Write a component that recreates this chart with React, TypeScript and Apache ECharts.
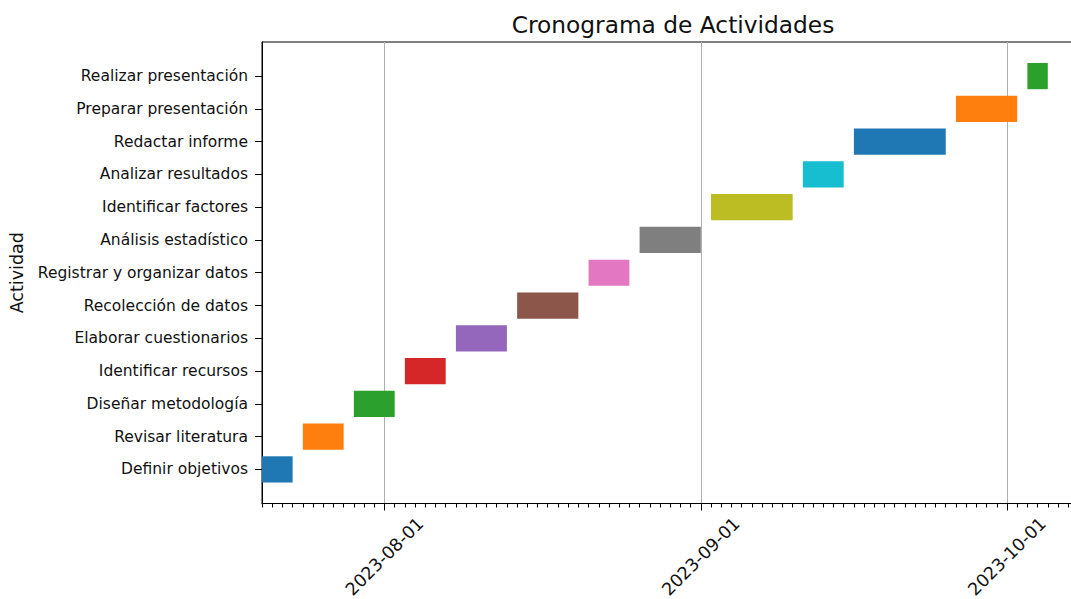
import React, { useEffect, useRef } from "react";
import * as echarts from "echarts";

const tasks = [
  "Definir objetivos",
  "Revisar literatura",
  "Diseñar metodología",
  "Identificar recursos",
  "Elaborar cuestionarios",
  "Recolección de datos",
  "Registrar y organizar datos",
  "Análisis estadístico",
  "Identificar factores",
  "Analizar resultados",
  "Redactar informe",
  "Preparar presentación",
  "Realizar presentación",
];

const startDates = [
  "2023-07-20", "2023-07-24", "2023-07-29", "2023-08-03", "2023-08-08",
  "2023-08-14", "2023-08-21", "2023-08-26", "2023-09-02", "2023-09-11",
  "2023-09-16", "2023-09-26", "2023-10-03",
];

const endDates = [
  "2023-07-23", "2023-07-28", "2023-08-02", "2023-08-07", "2023-08-13",
  "2023-08-20", "2023-08-25", "2023-09-01", "2023-09-10", "2023-09-15",
  "2023-09-25", "2023-10-02", "2023-10-05",
];

const barColors = [
  "#1f77b4", "#ff7f0e", "#2ca02c", "#d62728", "#9467bd", "#8c564b", "#e377c2",
  "#7f7f7f", "#bcbd22", "#17becf", "#1f77b4", "#ff7f0e", "#2ca02c",
];

const tickLabels = ["2023-08-01", "2023-09-01", "2023-10-01"];
const axisStart = "2023-07-20";
const axisEnd = "2023-10-08";

const DAY = 86400000;
const ts = (s: string) => {
  const [y, m, d] = s.split("-").map(Number);
  return Date.UTC(y, m - 1, d);
};
const fmt = (v: number) => {
  const d = new Date(v);
  const p = (n: number) => String(n).padStart(2, "0");
  return `${d.getUTCFullYear()}-${p(d.getUTCMonth() + 1)}-${p(d.getUTCDate())}`;
};

export default function App() {
  const ref = useRef<HTMLDivElement>(null);
  useEffect(() => {
    document.body.style.margin = "0";
    if (!ref.current) return;
    const chart = echarts.init(ref.current, undefined, { renderer: "svg" });
    const xMin = ts(axisStart);
    const xMax = ts(axisEnd);
    const days: number[] = [];
    for (let t = xMin; t <= xMax; t += DAY) days.push(t);
    const majors = tickLabels.map(ts);
    const idx = tasks.map((_, i) => i);
    const font = "DejaVu Sans";
    const txt = "#111";

    chart.setOption({
      animation: false,
      textStyle: { fontFamily: font },
      title: {
        text: "Cronograma de Actividades",
        left: 668,
        top: 8,
        textAlign: "center",
        textStyle: { fontSize: 23.3, fontWeight: "normal", color: txt, fontFamily: font },
      },
      grid: {
        left: 262,
        top: 42,
        width: 816.4,
        height: 461.5,
        show: true,
        borderColor: "#000",
        borderWidth: 1,
        backgroundColor: "transparent",
        outerBoundsMode: "none",
      },
      xAxis: [
        {
          type: "value",
          min: xMin,
          max: xMax,
          position: "bottom",
          axisLine: { show: true, onZero: false, lineStyle: { color: "#000", width: 1 } },
          axisTick: { show: true, customValues: days, length: 4, lineStyle: { color: "#000", width: 1 } },
          axisLabel: { show: false },
          splitLine: { show: false },
        },
        {
          type: "value",
          min: xMin,
          max: xMax,
          position: "bottom",
          axisLine: { show: false, onZero: false },
          axisTick: { show: true, customValues: majors, length: 7, lineStyle: { color: "#000", width: 1 } },
          axisLabel: {
            show: true,
            customValues: majors,
            formatter: (v: number) => fmt(v),
            rotate: 45,
            align: "center",
            verticalAlign: "middle",
            margin: 53,
            fontSize: 17.5,
            color: txt,
            fontFamily: font,
          },
          splitLine: { show: true, lineStyle: { color: "#b0b0b0", width: 1 } },
        },
      ],
      yAxis: {
        type: "value",
        min: -1.04,
        max: 13.04,
        axisLine: { show: true, onZero: false, lineStyle: { color: "#000", width: 1 } },
        axisTick: { show: true, customValues: idx, length: 7, lineStyle: { color: "#000", width: 1 } },
        axisLabel: {
          show: true,
          customValues: idx,
          formatter: (v: number) => tasks[Math.round(v)] ?? "",
          fontSize: 15.5,
          margin: 14,
          color: txt,
          fontFamily: font,
        },
        splitLine: { show: false },
        name: "Actividad",
        nameLocation: "middle",
        nameGap: 236,
        nameRotate: 90,
        nameTextStyle: { fontSize: 17.5, color: txt, fontFamily: font },
      },
      series: [
        {
          type: "custom",
          xAxisIndex: 0,
          yAxisIndex: 0,
          encode: { x: [0, 1], y: 2 },
          data: tasks.map((_, i) => [ts(startDates[i]), ts(endDates[i]), i]),
          renderItem: (params: any, api: any) => {
            const i = api.value(2);
            const s = api.coord([api.value(0), i]);
            const e = api.coord([api.value(1), i]);
            const h = api.size([0, 0.8])[1];
            return {
              type: "rect",
              shape: { x: s[0], y: s[1] - h / 2, width: e[0] - s[0], height: h },
              style: { fill: barColors[i] },
            };
          },
        },
      ],
    });
    return () => chart.dispose();
  }, []);
  return <div ref={ref} style={{ width: 1071, height: 599 }} />;
}
